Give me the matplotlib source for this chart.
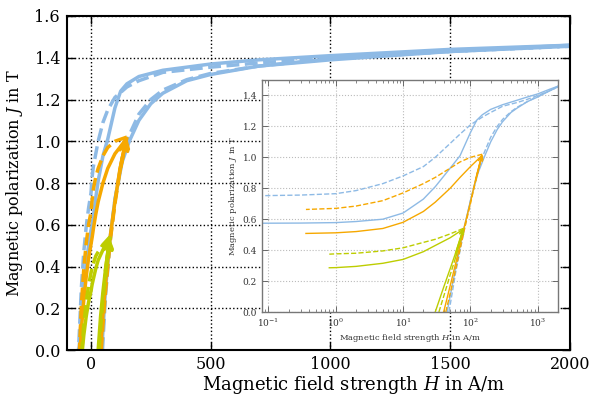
import numpy as np
import matplotlib
matplotlib.use('agg')
from matplotlib import pyplot as plt

plt.rcParams['font.family'] = ['DejaVu Serif']
plt.rcParams['mathtext.fontset'] = 'dejavuserif'

blue = '#8EBAE5'
orange = '#F6A800'
green = '#BDCD00'

# descending branches (from tip down through H=0 to J=0)
h_blue_down = [2000, 1500, 1000, 700, 500, 300, 200, 150, 124, 100, 70, 50, 30, 20, 10, 5, 2, 1, 0.3, 0.08,
               -10, -20, -30, -40, -50]
j_blue_down = [1.46, 1.44, 1.41, 1.39, 1.37, 1.34, 1.31, 1.275, 1.24, 1.16, 1.01, 0.93, 0.81, 0.73, 0.64, 0.60,
               0.585, 0.578, 0.575, 0.574, 0.50, 0.41, 0.30, 0.16, 0.0]
h_blue_down_d = [2000, 1500, 1000, 700, 500, 300, 200, 150, 100, 70, 50, 30, 20, 10, 5, 2, 1, 0.3, 0.08,
                 -10, -20, -30, -40, -52]
j_blue_down_d = [1.455, 1.43, 1.40, 1.375, 1.355, 1.33, 1.29, 1.26, 1.21, 1.15, 1.09, 1.00, 0.94, 0.88, 0.83,
                 0.785, 0.765, 0.756, 0.752, 0.68, 0.59, 0.47, 0.30, 0.0]
h_orange_down = [147, 100, 70, 50, 30, 20, 10, 5, 2, 1, 0.36, -10, -20, -30, -40, -45]
j_orange_down = [1.01, 0.94, 0.87, 0.80, 0.71, 0.65, 0.58, 0.54, 0.52, 0.512, 0.508, 0.44, 0.35, 0.24, 0.10, 0.0]
h_orange_down_d = [150, 100, 70, 50, 30, 20, 10, 5, 2, 1, 0.36, -10, -20, -30, -40, -48]
j_orange_down_d = [1.02, 1.00, 0.97, 0.93, 0.87, 0.83, 0.77, 0.72, 0.685, 0.67, 0.663, 0.60, 0.51, 0.39, 0.22, 0.0]
h_green_down = [78, 50, 30, 20, 10, 5, 2, 1, 0.8, -10, -20, -30, -36]
j_green_down = [0.535, 0.48, 0.43, 0.39, 0.34, 0.315, 0.295, 0.287, 0.286, 0.23, 0.16, 0.07, 0.0]
h_green_down_d = [78, 50, 30, 20, 10, 5, 2, 1, 0.8, -10, -20, -30, -38]
j_green_down_d = [0.54, 0.505, 0.47, 0.45, 0.415, 0.395, 0.38, 0.376, 0.374, 0.31, 0.23, 0.12, 0.0]

# ascending branches (from J=0 up to tip)
h_blue_up = [45, 60, 80, 100, 130, 160, 200, 250, 300, 400, 500, 700, 1000, 1500, 2000]
j_blue_up = [0.0, 0.28, 0.54, 0.72, 0.90, 1.00, 1.10, 1.18, 1.23, 1.29, 1.32, 1.36, 1.39, 1.43, 1.46]
h_blue_up_d = [48, 60, 80, 100, 130, 160, 200, 250, 300, 400, 500, 700, 1000, 1500, 2000]
j_blue_up_d = [0.0, 0.25, 0.52, 0.72, 0.92, 1.03, 1.13, 1.20, 1.245, 1.295, 1.325, 1.36, 1.395, 1.43, 1.455]
h_orange_up = [40, 50, 60, 80, 100, 120, 147]
j_orange_up = [0.0, 0.17, 0.31, 0.54, 0.71, 0.86, 1.01]
h_orange_up_d = [43, 50, 60, 80, 100, 120, 150]
j_orange_up_d = [0.0, 0.12, 0.27, 0.52, 0.70, 0.85, 1.02]
h_green_up = [30, 40, 50, 60, 78]
j_green_up = [0.0, 0.16, 0.28, 0.38, 0.535]
h_green_up_d = [34, 40, 50, 60, 78]
j_green_up_d = [0.0, 0.10, 0.24, 0.35, 0.54]

curves = [
    (blue, '-', h_blue_down, j_blue_down, h_blue_up, j_blue_up, False),
    (blue, '--', h_blue_down_d, j_blue_down_d, h_blue_up_d, j_blue_up_d, False),
    (orange, '-', h_orange_down, j_orange_down, h_orange_up, j_orange_up, True),
    (orange, '--', h_orange_down_d, j_orange_down_d, h_orange_up_d, j_orange_up_d, True),
    (green, '-', h_green_down, j_green_down, h_green_up, j_green_up, True),
    (green, '--', h_green_down_d, j_green_down_d, h_green_up_d, j_green_up_d, True),
]

fig = plt.figure(figsize=(6.06, 3.95), dpi=100)
ax = fig.add_axes([0.1106, 0.1139, 0.83, 0.8456])

for c, ls, hd, jd, hu, ju, arrow in curves:
    ax.plot(hd, jd, color=c, ls=ls, lw=2.5)
    ax.plot(hu, ju, color=c, ls=ls, lw=2.5)
    if arrow:
        ax.annotate('', xy=(hu[-1], ju[-1]), xytext=(hu[-2], ju[-2]),
                    arrowprops=dict(arrowstyle='->', color=c, lw=2.5, shrinkA=0, shrinkB=0,
                                    mutation_scale=14))

ax.set_xlim(-100, 2000)
ax.set_ylim(0, 1.6)
ax.set_xticks([0, 500, 1000, 1500, 2000])
ax.set_yticks(np.arange(0, 1.61, 0.2))
ax.set_yticklabels(['%.1f' % v for v in np.arange(0, 1.61, 0.2)])
ax.grid(True, color='k', ls=':', lw=1)
ax.tick_params(direction='in', top=True, right=True, length=6, width=1, labelsize=11.5, pad=5)
ax.tick_params(axis='x', pad=4)
for s in ax.spines.values():
    s.set_linewidth(1.5)
ax.set_xlabel('Magnetic field strength $H$ in A/m', fontsize=13)
ax.xaxis.set_label_coords(0.57, -0.072)
ax.set_ylabel('Magnetic polarization $J$ in T', fontsize=11.5, labelpad=7)

axin = fig.add_axes([0.4323, 0.2101, 0.4885, 0.5874])
for c, ls, hd, jd, hu, ju, arrow in curves:
    hd = np.array(hd)
    jd = np.array(jd)
    m = hd > 0
    axin.plot(hd[m], jd[m], color=c, ls=ls, lw=1)
    axin.plot(hu, ju, color=c, ls=ls, lw=1)
    if arrow:
        axin.annotate('', xy=(hu[-1], ju[-1]), xytext=(hu[-2], ju[-2]),
                      arrowprops=dict(arrowstyle='->', color=c, lw=1, shrinkA=0, shrinkB=0,
                                      mutation_scale=7))

axin.set_xscale('log')
axin.set_xlim(0.08, 2000)
axin.set_ylim(0, 1.5)
axin.set_yticks(np.arange(0, 1.41, 0.2))
axin.set_yticklabels(['%.1f' % v for v in np.arange(0, 1.41, 0.2)])
axin.grid(True, color='#bbbbbb', ls=':', lw=0.8)
axin.tick_params(which='both', direction='in', top=True, right=True, labelsize=6.5, colors='#555555',
                 labelcolor='#333333')
axin.tick_params(which='major', length=4, width=0.6)
axin.tick_params(which='minor', length=2, width=0.5)
for s in axin.spines.values():
    s.set_color('#777777')
    s.set_linewidth(1)
axin.set_xlabel('Magnetic field strength $H$ in A/m', fontsize=6, color='#333333', labelpad=2)
axin.set_ylabel('Magnetic polarization $J$ in T', fontsize=6, color='#333333', labelpad=3)

fig.savefig('out.png', dpi=100)
